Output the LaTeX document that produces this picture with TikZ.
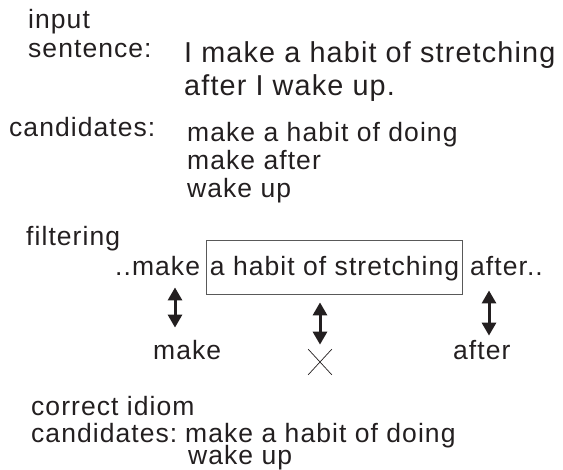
\documentclass[tikz,border=0pt]{standalone}
\usepackage{fontspec}
\setmainfont{Liberation Sans}[LetterSpace=4]
\usetikzlibrary{arrows.meta, shapes.misc}

\definecolor{ink}{HTML}{231F20}
\tikzset{
  lbl/.style={anchor=base west, inner sep=0pt, text=ink,
    font=\fontsize{26.5}{30}\selectfont},
  sent/.style={lbl, font=\fontsize{28.8}{33}\selectfont},
  spanbox/.style={lbl, draw=black!65, line width=0.8pt,
    inner xsep=3.5pt, text height=36pt, text depth=18pt},
  rejected/.style={cross out, draw=ink, line width=0.7pt,
    minimum width=23pt, minimum height=25pt, inner sep=0pt},
  arrow/.style={line width=3pt, draw=ink,
    {Triangle[width=14pt,length=13pt]}-{Triangle[width=14pt,length=13pt]}},
}

\begin{document}
\begin{tikzpicture}[x=1pt, y=1pt]
\useasboundingbox (0,0) rectangle (563,-470);

% input
\node (input) [lbl] at (28,-29) {input};
\node (sentence) [lbl] at (28,-58) {sentence:};
\node (sent1) [sent] at (184,-63) {I make a habit of stretching};
\node (sent2) [sent] at (184,-96) {after I wake up.};

% candidates
\node (cand) [lbl] at (9,-137) {candidates:};
\node (cand1) [lbl] at (187,-142) {make a habit of doing};
\node (cand2) [lbl] at (187,-170) {make after};
\node (cand3) [lbl] at (187,-198) {wake up};

% filtering
\node (filter) [lbl] at (26,-246) {filtering};
\node (ctxl) [lbl] at (115,-276) {..make};
\node (span) [spanbox] at (206,-276) {a habit of stretching};
\node (ctxr) [lbl] at (470,-276) {after..};
\node (lmake) [lbl] at (153,-360) {make};
\node (rej) [rejected] at (320,-362) {};
\node (rafter) [lbl] at (453,-360) {after};

\draw [arrow, shorten <=11pt, shorten >=13pt] ([xshift=60pt]ctxl.south west) -- ([xshift=60pt]ctxl.south west |- lmake.north);
\draw [arrow, shorten <=8pt, shorten >=4.5pt] (span.south -| rej.north) -- (rej.north);
\draw [arrow, shorten <=14pt, shorten >=5pt] ([xshift=19pt]ctxr.south west) -- ([xshift=19pt]ctxr.south west |- rafter.north);

% result
\node (correct) [lbl] at (31,-416) {correct idiom};
\node (cand4) [lbl] at (31,-443) {candidates:};
\node (res1) [lbl] at (185,-443) {make a habit of doing};
\node (res2) [lbl] at (188,-465) {wake up};
\end{tikzpicture}
\end{document}
